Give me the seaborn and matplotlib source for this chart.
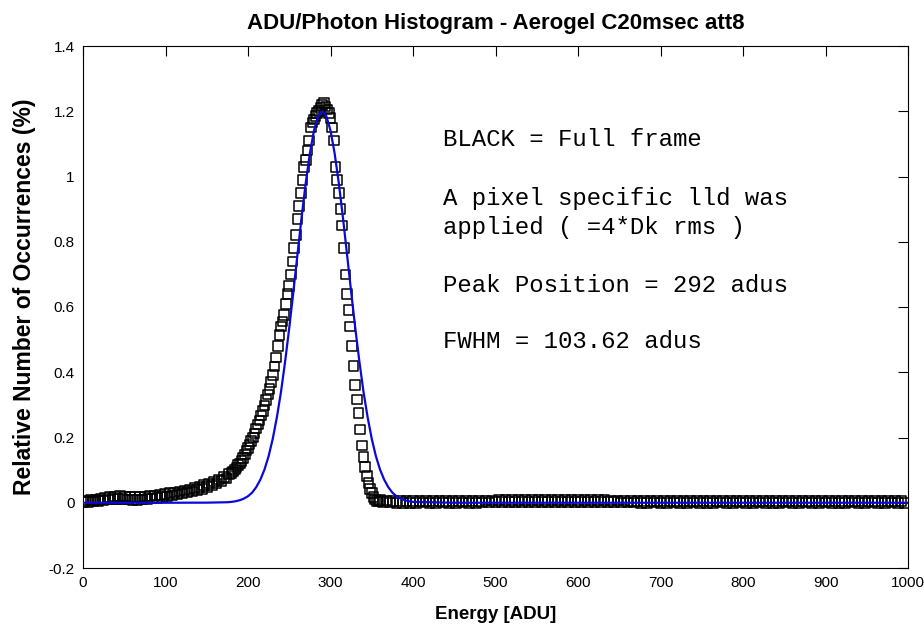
import matplotlib
matplotlib.use("Agg")
import matplotlib.pyplot as plt
import seaborn as sns
import pandas as pd
from matplotlib.ticker import FuncFormatter

# histogram points (black squares)
tail_adu = list(range(0, 180, 3))
tail_pct = [0.002, 0.007, 0.003, 0.009, 0.004, 0.010, 0.006, 0.012, 0.007, 0.015,
            0.010, 0.018, 0.011, 0.019, 0.012, 0.020, 0.011, 0.019, 0.010, 0.018,
            0.009, 0.017, 0.009, 0.018, 0.010, 0.019, 0.012, 0.020, 0.013, 0.022,
            0.015, 0.024, 0.017, 0.026, 0.019, 0.029, 0.022, 0.031, 0.025, 0.034,
            0.028, 0.037, 0.031, 0.041, 0.035, 0.045, 0.039, 0.049, 0.043, 0.054,
            0.048, 0.059, 0.053, 0.065, 0.059, 0.071, 0.066, 0.078, 0.074, 0.088]

peak_adu = list(range(180, 360, 2))
peak_pct = [0.092, 0.096, 0.102, 0.108, 0.115, 0.120, 0.128, 0.137, 0.148, 0.160,
            0.168, 0.178, 0.190, 0.200, 0.212, 0.228, 0.240, 0.252, 0.268, 0.282,
            0.298, 0.315, 0.332, 0.348, 0.370, 0.392, 0.418, 0.445, 0.480, 0.515,
            0.540, 0.556, 0.575, 0.610, 0.640, 0.665, 0.700, 0.740, 0.780, 0.820,
            0.870, 0.910, 0.950, 0.990, 1.030, 1.050, 1.080, 1.110, 1.150, 1.165,
            1.175, 1.185, 1.195, 1.200, 1.210, 1.220, 1.225, 1.215, 1.205, 1.195,
            1.180, 1.150, 1.110, 1.030, 0.990, 0.950, 0.900, 0.850, 0.780, 0.700,
            0.640, 0.590, 0.540, 0.480, 0.420, 0.360, 0.316, 0.275, 0.225, 0.175,
            0.140, 0.110, 0.082, 0.060, 0.042, 0.030, 0.018, 0.010, 0.006, 0.004]

flat_adu = list(range(360, 1000, 4))
flat_pct = [0.008, 0.002, 0.007, 0.001, 0.006, 0.000, 0.006, 0.000, 0.006, 0.000,
            0.006, 0.000, 0.006, 0.001, 0.006, 0.000, 0.006, 0.000, 0.006, 0.001,
            0.006, 0.000, 0.006, 0.000, 0.006, 0.001, 0.006, 0.000, 0.006, 0.000,
            0.006, 0.001, 0.007, 0.001, 0.007, 0.002, 0.008, 0.002, 0.008, 0.002,
            0.008, 0.002, 0.009, 0.002, 0.008, 0.003, 0.008, 0.002, 0.009, 0.002,
            0.008, 0.003, 0.009, 0.002, 0.008, 0.002, 0.009, 0.002, 0.008, 0.003,
            0.008, 0.002, 0.009, 0.002, 0.008, 0.002, 0.008, 0.002, 0.008, 0.002,
            0.007, 0.002, 0.007, 0.001, 0.007, 0.001, 0.006, 0.001, 0.006, 0.000,
            0.006, 0.000, 0.006, 0.001, 0.006, 0.000, 0.006, 0.000, 0.006, 0.001,
            0.006, 0.000, 0.006, 0.000, 0.006, 0.001, 0.006, 0.000, 0.006, 0.000,
            0.006, 0.000, 0.006, 0.001, 0.006, 0.000, 0.006, 0.000, 0.006, 0.001,
            0.006, 0.000, 0.006, 0.000, 0.006, 0.001, 0.006, 0.000, 0.006, 0.000,
            0.006, 0.000, 0.006, 0.001, 0.006, 0.000, 0.006, 0.000, 0.006, 0.001,
            0.006, 0.000, 0.006, 0.000, 0.006, 0.001, 0.006, 0.000, 0.006, 0.000,
            0.006, 0.000, 0.006, 0.001, 0.006, 0.000, 0.006, 0.000, 0.006, 0.001,
            0.006, 0.000, 0.006, 0.000, 0.006, 0.001, 0.006, 0.000, 0.006, 0.000]

# gaussian fit (blue line)
fit_adu = [0, 100, 150, 175] + list(range(180, 405, 5)) + [450, 600, 800, 1000]
fit_pct = ([0.0, 0.0, 0.0003, 0.0016] +
           [0.0027, 0.0046, 0.0078, 0.0127, 0.020, 0.031, 0.048, 0.071, 0.102, 0.143,
            0.196, 0.262, 0.340, 0.433, 0.536, 0.647, 0.762, 0.876, 0.981, 1.071,
            1.141, 1.185, 1.200, 1.185, 1.141, 1.071, 0.981, 0.876, 0.762, 0.647,
            0.536, 0.433, 0.340, 0.262, 0.196, 0.143, 0.102, 0.071, 0.048, 0.031,
            0.020, 0.0127, 0.0078, 0.0046, 0.0027] +
           [0.0, 0.0, 0.0, 0.0])

notes = ["BLACK = Full frame",
         "A pixel specific lld was",
         "applied ( =4*Dk rms )",
         "Peak Position = 292 adus",
         "FWHM = 103.62 adus"]
note_y = [140, 198, 228, 285, 342]

hist = pd.DataFrame({"adu": tail_adu + peak_adu + flat_adu,
                     "pct": tail_pct + peak_pct + flat_pct})
fit = pd.DataFrame({"adu": fit_adu, "pct": fit_pct})

sns.set_style("white")
plt.rcParams["font.family"] = ["Liberation Sans", "DejaVu Sans"]
plt.rcParams["text.color"] = "black"
plt.rcParams["axes.labelcolor"] = "black"

fig = plt.figure(figsize=(9.24, 6.32), dpi=100)
ax = fig.add_axes([83 / 924, 64 / 632, 825 / 924, 522 / 632])

sns.scatterplot(data=hist, x="adu", y="pct", ax=ax, marker="s", s=48,
                facecolors="none", edgecolors="black", linewidth=1.1, zorder=2)
sns.lineplot(data=fit, x="adu", y="pct", ax=ax, color="#0a0ad8", linewidth=1.6, zorder=3)

ax.set_xlim(0, 1000)
ax.set_ylim(-0.2, 1.4)
ax.set_xticks(range(0, 1001, 100))
ax.set_yticks([-0.2, 0, 0.2, 0.4, 0.6, 0.8, 1.0, 1.2, 1.4])
ax.yaxis.set_major_formatter(FuncFormatter(lambda v, p: "%g" % round(v, 2)))
ax.tick_params(direction="in", length=7, width=0.8, top=True, right=True,
               labelsize=11, pad=6, colors="black")
for sp in ax.spines.values():
    sp.set_visible(True)
    sp.set_color("black")
    sp.set_linewidth(0.8)

ax.set_title("ADU/Photon Histogram - Aerogel C20msec att8", fontsize=16,
             fontweight="bold", pad=12, color="black")
ax.set_xlabel("Energy [ADU]", fontsize=13.5, fontweight="bold", labelpad=11)
ax.set_ylabel("Relative Number of Occurrences (%)", fontsize=16.5, fontweight="bold")
ax.yaxis.set_label_coords(-0.057, 0.52)

for txt, yy in zip(notes, note_y):
    fig.text(443 / 924, 1 - yy / 632, txt, fontsize=17.3, va="center",
             family=["Liberation Mono", "DejaVu Sans Mono"])

fig.savefig("out.png", dpi=100)
